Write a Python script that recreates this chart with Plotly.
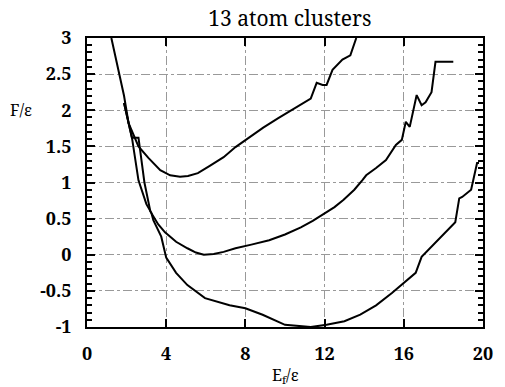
import plotly.graph_objects as go

# Curve A (upper)
a_x = [1.23, 1.6, 1.87, 2.1, 2.6, 3.1, 3.7, 4.2, 4.7, 5.1, 5.6, 6.2, 6.9, 7.5, 8.2, 8.9, 9.66, 10.2, 10.8, 11.3, 11.6, 11.9, 12.1, 12.4, 12.9, 13.3, 13.6]
a_y = [3.0, 2.55, 2.2, 1.82, 1.5, 1.34, 1.17, 1.1, 1.08, 1.09, 1.13, 1.23, 1.35, 1.49, 1.63, 1.76, 1.89, 1.98, 2.08, 2.16, 2.38, 2.35, 2.35, 2.56, 2.70, 2.76, 3.0]

# Curve B (middle)
b_x = [1.87, 2.27, 2.6, 2.9, 3.2, 3.6, 3.94, 4.5, 5.07, 5.5, 5.9, 6.4, 6.9, 7.5, 8.3, 9.2, 10.0, 10.8, 11.4, 12.0, 12.5, 12.96, 13.5, 13.9, 14.1, 14.6, 15.1, 15.6, 15.9, 16.1, 16.3, 16.65, 16.9, 17.1, 17.4, 17.6, 18.5]
b_y = [2.1, 1.62, 1.62, 1.0, 0.6, 0.42, 0.31, 0.18, 0.09, 0.03, 0.0, 0.01, 0.04, 0.09, 0.14, 0.2, 0.28, 0.38, 0.47, 0.58, 0.66, 0.76, 0.9, 1.03, 1.1, 1.2, 1.31, 1.52, 1.59, 1.84, 1.77, 2.21, 2.07, 2.11, 2.25, 2.67, 2.67]

# Curve C (lower)
c_x = [1.87, 2.27, 2.6, 3.0, 3.25, 3.35, 3.75, 4.0, 4.5, 5.07, 5.96, 7.2, 8.0, 8.87, 10.0, 11.3, 12.1, 13.0, 13.8, 14.6, 15.4, 16.2, 16.6, 16.9, 17.7, 18.6, 18.8, 18.95, 19.4, 19.7, 19.8]
c_y = [2.1, 1.62, 1.03, 0.7, 0.58, 0.48, 0.25, -0.04, -0.25, -0.42, -0.6, -0.70, -0.74, -0.83, -0.97, -1.0, -0.97, -0.92, -0.83, -0.7, -0.53, -0.35, -0.25, -0.03, 0.2, 0.45, 0.78, 0.8, 0.9, 1.27, 1.27]

x_ticks = [0, 4, 8, 12, 16, 20]
y_ticks = [-1, -0.5, 0, 0.5, 1, 1.5, 2, 2.5, 3]
y_tick_text = ["-1", "-0.5", "0", "0.5", "1", "1.5", "2", "2.5", "3"]

title_text = "13 atom clusters"
y_label = "F/ε"
x_label = "E<sub>f</sub>/ε"

serif = "Noto Serif"

fig = go.Figure()
for xs, ys in [(a_x, a_y), (b_x, b_y), (c_x, c_y)]:
    fig.add_trace(go.Scatter(x=xs, y=ys, mode="lines",
                             line=dict(color="black", width=2),
                             showlegend=False, cliponaxis=True))

# dummy trace on right axis for mirrored minor ticks
fig.add_trace(go.Scatter(x=[None], y=[None], yaxis="y2", showlegend=False))

fig.update_layout(
    width=505, height=387,
    margin=dict(l=87, r=12, t=38, b=60),
    paper_bgcolor="white", plot_bgcolor="white",
    title=dict(text=title_text, x=0.574, xanchor="center", y=0.951, yanchor="middle",
               font=dict(family=serif, size=21, color="black")),
    xaxis=dict(range=[0, 20], tickvals=x_ticks, ticks="inside", ticklen=8, tickwidth=2,
               tickcolor="black", showline=True, linecolor="black", linewidth=2,
               mirror="ticks", showgrid=True, gridcolor="#999", griddash="dashdot", gridwidth=1,
               zeroline=False, ticklabelstandoff=9,
               tickfont=dict(family=serif, size=18, color="black", weight="bold")),
    yaxis=dict(range=[-1, 3], tickvals=y_ticks, ticktext=y_tick_text, ticks="inside", ticklen=8,
               tickwidth=2, tickcolor="black", showline=True, linecolor="black", linewidth=2,
               mirror=True, showgrid=True, gridcolor="#999", griddash="dashdot", gridwidth=1,
               zeroline=False, ticklabelstandoff=10,
               minor=dict(dtick=0.1, ticks="inside", ticklen=5, tickwidth=1.5, tickcolor="black", showgrid=False),
               tickfont=dict(family=serif, size=18, color="black", weight="bold")),
    yaxis2=dict(range=[-1, 3], overlaying="y", side="right", tickvals=y_ticks, ticks="inside",
                ticklen=8, tickwidth=2, tickcolor="black", showticklabels=False, showgrid=False,
                zeroline=False,
                minor=dict(dtick=0.1, ticks="inside", ticklen=5, tickwidth=1.5, tickcolor="black", showgrid=False)),
    annotations=[
        dict(text=y_label, xref="paper", yref="y", x=-0.167, y=2, xanchor="center", yanchor="middle",
             showarrow=False, font=dict(family=serif, size=16, color="black")),
        dict(text=x_label, xref="x", yref="paper", x=10, y=-0.12, xanchor="center", yanchor="top",
             showarrow=False, font=dict(family=serif, size=16, color="black")),
    ],
)

fig.write_html("out.html")
